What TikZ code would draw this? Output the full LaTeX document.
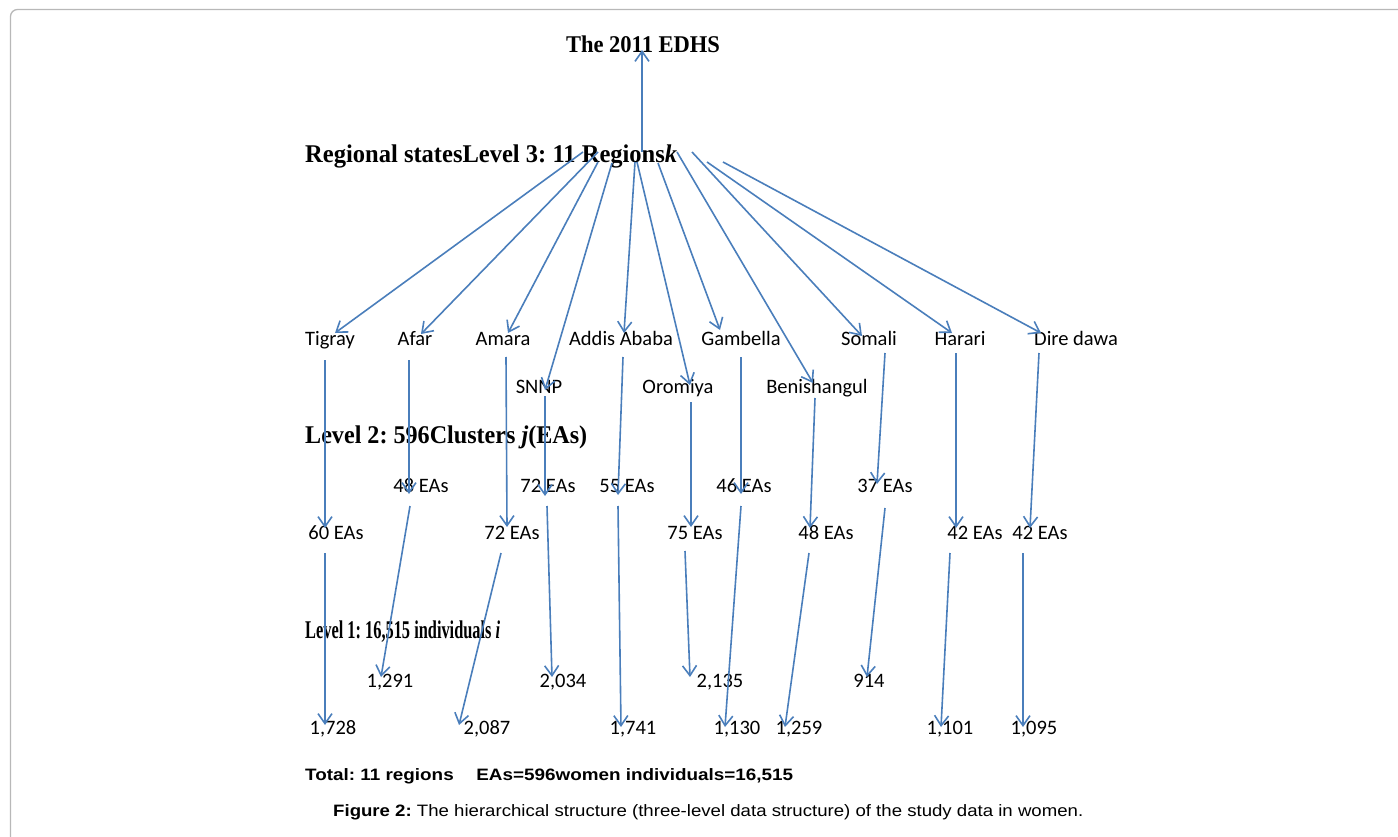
\documentclass[tikz,border=0pt]{standalone}
\usepackage{fontspec}
\usepackage{graphicx}
\setmainfont{Carlito}
\newfontfamily\tnr{Liberation Serif}
\newfontfamily\arialf{Liberation Sans}
\usetikzlibrary{arrows.meta}
\frenchspacing
\definecolor{arrowblue}{HTML}{4A7EBB}
\definecolor{framegray}{HTML}{B8B8B8}
\newcommand{\fitw}[2]{\resizebox{#1}{\height}{#2}}
\tikzset{
  lbl/.style={font=\fontsize{20.5}{24}\selectfont, inner sep=0pt, anchor=center, text height=13pt, text depth=4pt},
  head/.style={font=\tnr\bfseries\fontsize{25.5}{30}\selectfont, inner sep=0pt, anchor=west},
  foot/.style={font=\arialf\fontsize{16.5}{20}\selectfont, inner sep=0pt, anchor=west},
  arr/.style={draw=arrowblue, line width=1.6pt, -{Straight Barb[length=10pt,width=14pt,line width=1.6pt]}},
}
\begin{document}
\begin{tikzpicture}[x=1pt,y=-1pt]
\useasboundingbox (0,0) rectangle (1398,837);
\draw[framegray, line width=1.3pt, rounded corners=7pt] (1402,9.5) -- (10.5,9.5) -- (10.5,842);

% headings
\node[font=\tnr\bfseries\fontsize{24}{28}\selectfont, inner sep=0pt] (edhs) at (643,44) {\fitw{154pt}{The 2011 EDHS}};
\node[head] (l3) at (305,156) {\fitw{372pt}{Regional statesLevel 3: 11 Regions\textit{k}}};
\node[head] (l2) at (305,437) {\fitw{282pt}{Level 2: 596Clusters \textit{j}(EAs)}};
\node[head] (l1) at (305,632) {\fitw{195pt}{Level 1: 16,515 individuals \textit{i}}};

% regions
\node[lbl] (tig) at (330,341) {Tigray};
\node[lbl] (afa) at (415,341) {Afar};
\node[lbl] (ama) at (503,341) {Amara};
\node[lbl] (add) at (621,341) {Addis Ababa};
\node[lbl] (gam) at (741,341) {Gambella};
\node[lbl] (som) at (869,341) {Somali};
\node[lbl] (har) at (960,341) {Harari};
\node[lbl] (dir) at (1076,341) {Dire dawa};
\node[lbl] (snn) at (539,389) {SNNP};
\node[lbl] (oro) at (678,389) {Oromiya};
\node[lbl] (ben) at (817,389) {Benishangul};

% clusters
\node[lbl] (eA) at (421,488) {48 EAs};
\node[lbl] (eB) at (548,488) {72 EAs};
\node[lbl] (eC) at (627,488) {55 EAs};
\node[lbl] (eD) at (744,488) {46 EAs};
\node[lbl] (eE) at (885,488) {37 EAs};
\node[lbl] (eF) at (336,535) {60 EAs};
\node[lbl] (eG) at (512,535) {72 EAs};
\node[lbl] (eH) at (695,535) {75 EAs};
\node[lbl] (eI) at (826,535) {48 EAs};
\node[lbl] (eJ) at (975,535) {42 EAs};
\node[lbl] (eK) at (1040,535) {42 EAs};

% individuals
\node[lbl] (iA) at (390,683) {1,291};
\node[lbl] (iB) at (563,683) {2,034};
\node[lbl] (iC) at (720,683) {2,135};
\node[lbl] (iD) at (869,683) {914};
\node[lbl] (iE) at (333,730) {1,728};
\node[lbl] (iF) at (487,730) {2,087};
\node[lbl] (iG) at (633,730) {1,741};
\node[lbl] (iH) at (737,730) {1,130};
\node[lbl] (iI) at (799,730) {1,259};
\node[lbl] (iJ) at (950,730) {1,101};
\node[lbl] (iK) at (1034,730) {1,095};

% footer
\node[foot, font=\arialf\bfseries\fontsize{16.5}{20}\selectfont] (total) at (305,776) {\fitw{488pt}{Total: 11 regions\hspace{1.2em}EAs=596women individuals=16,515}};
\node[foot] (cap) at (333,812) {\fitw{750pt}{\textbf{Figure 2:} The hierarchical structure (three-level data structure) of the study data in women.}};

% connectors
\coordinate (top-s) at (642,152);
\coordinate (top-e) at (642,50);
\draw[arr] (top-s) -- (top-e);

\foreach \n/\ax/\ay/\bx/\by in {
  fT/583/152/335/333, fAf/598/152/421/334, fAm/598/162/508/333, fSN/612/163/545/390,
  fAd/635/162/624/333, fOr/637/162/690/385, fGa/658/163/720/330, fBe/677/152/813/383,
  fSo/692/152/862/336, fHa/707/162/952/333, fDi/723/162/1041/333,
  dT/325/360/325/528, dAf/409/360/409/494, dAm/506/357/507/527, dSN/545/396/545/496,
  dAd/623/357/618/495, dOr/691/402/691/527, dGa/741/357/741/494, dBe/815/398/810/528,
  dSo/885/353/877/484, dHa/956/353/956/528, dDi/1039/353/1030/528,
  gT/325/553/325/725, gAf/410/506/381/677, gAm/501/553/459/725, gSN/547/506/552/677,
  gAd/618/506/621/727, gOr/685/551/690/677, gGa/741/506/725/727, gBe/809/553/785/727,
  gSo/885/508/867/677, gHa/950/553/941/727, gDi/1023/553/1023/727}{
  \coordinate (\n-s) at (\ax,\ay);
  \coordinate (\n-e) at (\bx,\by);
  \draw[arr] (\n-s) -- (\n-e);
}
\end{tikzpicture}
\end{document}
